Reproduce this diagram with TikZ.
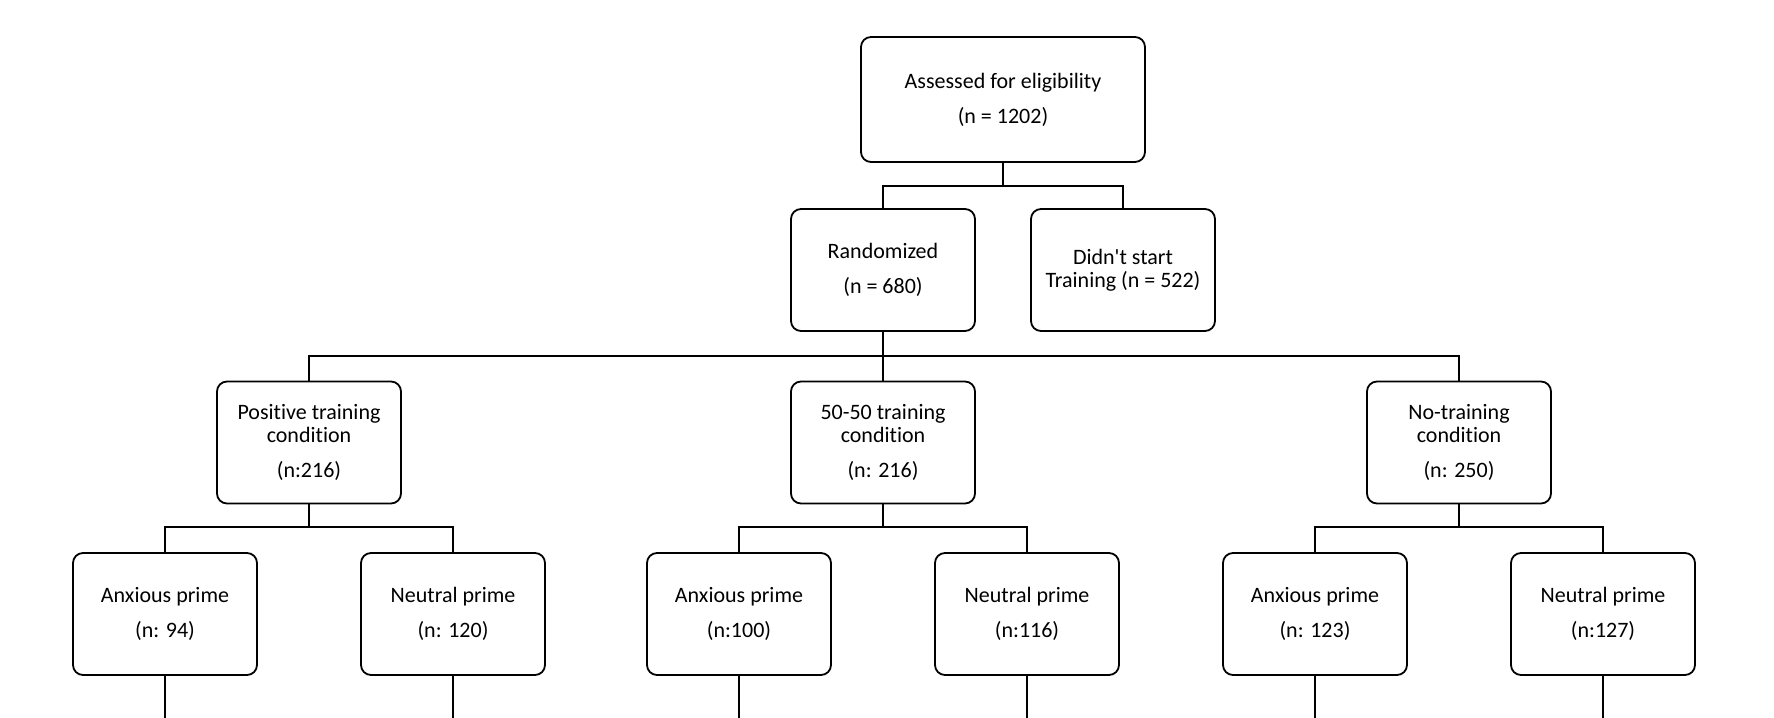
\documentclass[tikz,border=0pt]{standalone}
\usepackage{fontspec}
\setmainfont{Carlito}[Ligatures={TeXOff,CommonOff}]
\usepackage{tikz}
\usetikzlibrary{positioning, calc}

\begin{document}
\begin{tikzpicture}[x=0.5pt, y=-0.5pt,
  box/.style={draw, rounded corners=5pt, line width=0.9pt, align=center,
    minimum width=92pt, minimum height=61pt, inner sep=0pt,
    font=\fontsize{11}{11.5}\selectfont},
  link/.style={line width=0.8pt}]
\useasboundingbox (0,0) rectangle (1774,718);
\coordinate (busA) at (0,186);
\coordinate (busB) at (0,356);
\coordinate (busC) at (0,527);
\coordinate (floor) at (0,718);

\node[box, minimum width=142pt, minimum height=62.5pt] (elig) at (1003,99.5) {Assessed for eligibility\\[6pt](n = 1202)};
\node[box] (rand) at (883,270) {Randomized\\[6pt](n = 680)};
\node[box] (nostart) at (1123,270) {Didn't start\\Training (n = 522)};
\foreach \kid in {rand,nostart}
  \draw[link] (elig.south) |- (busA -| \kid.north) -- (\kid.north);

% conditions
\node[box] (pos) at (309,442.5) {Positive training\\condition\\[6pt](n:216)};
\node[box] (half) at (883,442.5) {50-50 training\\condition\\[6pt](n: 216)};
\node[box] (none) at (1459,442.5) {No-training\\condition\\[6pt](n: 250)};
\foreach \kid in {pos,half,none}
  \draw[link] (rand.south) |- (busB -| \kid.north) -- (\kid.north);

% primes
\foreach \cond/\x/\na/\nn in {pos/309/{(n: 94)}/{(n: 120)},
    half/883/{(n:100)}/{(n:116)}, none/1459/{(n: 123)}/{(n:127)}} {
  \node[box] (\cond-anx) at (\x-144,614) {Anxious prime\\[6pt]\na};
  \node[box] (\cond-neu) at (\x+144,614) {Neutral prime\\[6pt]\nn};
  \foreach \kid in {\cond-anx,\cond-neu} {
    \draw[link] (\cond.south) |- (busC -| \kid.north) -- (\kid.north);
    \draw[link] (\kid.south) -- (\kid.south |- floor);
  }
}
\end{tikzpicture}
\end{document}
